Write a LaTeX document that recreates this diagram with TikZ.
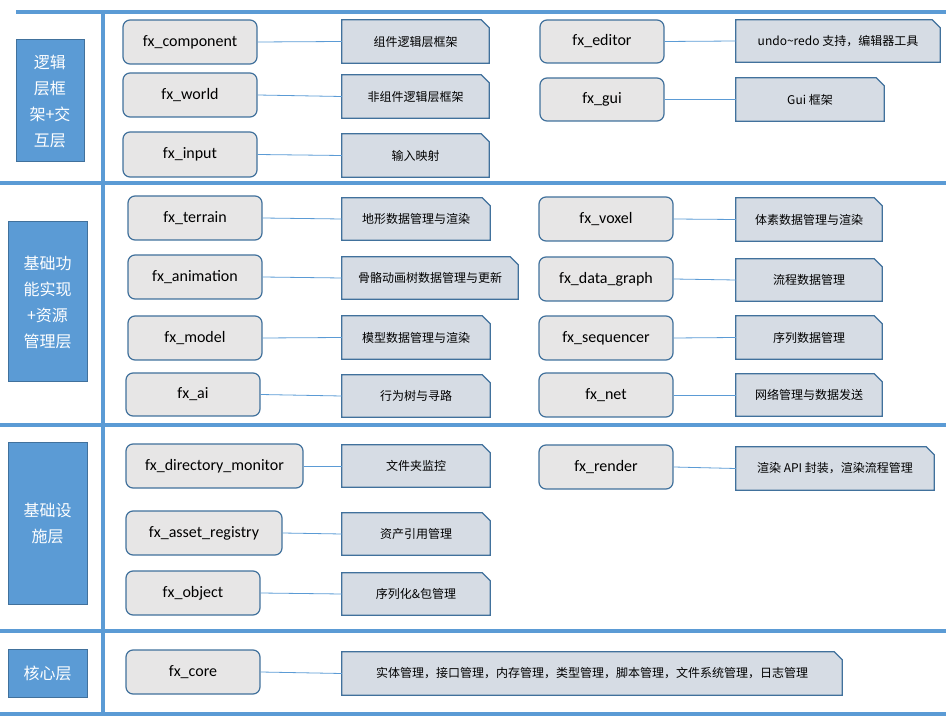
\documentclass[tikz,border=0pt]{standalone}
\usepackage{fontspec}
\setmainfont{Carlito}
\newfontfamily\cjk{Noto Sans CJK SC}
\definecolor{lay}{HTML}{5B9BD5}
\definecolor{edge}{HTML}{41719C}
\definecolor{modf}{HTML}{E7E6E6}
\definecolor{desf}{HTML}{D6DCE4}
\tikzset{
 sep/.style={lay,line width=3.5pt},
 laybox/.style={draw=edge,fill=lay,line width=1pt,text=white,align=center,font=\cjk\fontsize{16}{26}\selectfont,inner sep=0pt},
 modbox/.style={draw=edge,fill=modf,line width=1.2pt,rounded corners=7pt,font=\fontsize{16}{18}\selectfont,inner sep=0pt},
 desbox/.style={inner sep=0pt,font=\cjk\fontsize{12}{14}\selectfont},
 link/.style={lay,line width=0.8pt}
}
\newcommand{\mybox}[6]{\node[#1,minimum width={#4-#2},minimum height={#5-#3}] (#6) at ({(#2+#4)/2},{(#3+#5)/2})}
\newcommand{\desc}[6]{\mybox{desbox}{#2}{#3}{#4}{#5}{#1}{#6};
 \fill[desf] (#1.south west)--(#1.north west)--([xshift=-8pt]#1.north east)--([yshift=-8pt]#1.north east)--(#1.south east)--cycle;
 \draw[edge,line width=1.2pt] (#1.south west)--(#1.north west)--([xshift=-8pt]#1.north east)--([yshift=-8pt]#1.north east)--(#1.south east)--cycle;
 \node[desbox] at (#1.center) {#6};}
\begin{document}
\begin{tikzpicture}[x=1pt,y=-1pt]
\useasboundingbox (0,0) rectangle (946,727);
\draw[sep] (16,12) -- (946,12);
\draw[sep] (0,183) -- (946,183);
\draw[sep] (0,425) -- (946,425);
\draw[sep] (0,631) -- (946,631);
\draw[sep] (0,714) -- (946,714);
\draw[sep] (103,12) -- (103,714);
\mybox{laybox}{16}{40}{84}{162}{L1}{逻辑\\层框\\架+交\\互层};
\mybox{laybox}{8}{222}{87}{382}{L2}{基础功\\能实现\\+资源\\管理层};
\mybox{laybox}{8}{443}{87}{604}{L3}{基础设\\施层};
\mybox{laybox}{8}{649}{87}{697}{L4}{核心层};
\mybox{modbox}{123}{20}{257}{64}{m1}{fx\_component};
\mybox{modbox}{123}{73}{257}{117}{m2}{fx\_world};
\mybox{modbox}{123}{132}{257}{177}{m3}{fx\_input};
\mybox{modbox}{540}{20}{664}{63}{m4}{fx\_editor};
\mybox{modbox}{540}{78}{664}{121}{m5}{fx\_gui};
\mybox{modbox}{128}{196}{262}{240}{m6}{fx\_terrain};
\mybox{modbox}{128}{255}{262}{299}{m7}{fx\_animation};
\mybox{modbox}{128}{316}{262}{360}{m8}{fx\_model};
\mybox{modbox}{126}{373}{260}{416}{m9}{fx\_ai};
\mybox{modbox}{539}{197}{673}{241}{m10}{fx\_voxel};
\mybox{modbox}{539}{257}{673}{301}{m11}{fx\_data\_graph};
\mybox{modbox}{539}{316}{673}{360}{m12}{fx\_sequencer};
\mybox{modbox}{539}{373}{673}{417}{m13}{fx\_net};
\mybox{modbox}{126}{444}{303}{488}{m14}{fx\_directory\_monitor};
\mybox{modbox}{539}{445}{673}{489}{m15}{fx\_render};
\mybox{modbox}{126}{511}{282}{555}{m16}{fx\_asset\_registry};
\mybox{modbox}{126}{571}{260}{615}{m17}{fx\_object};
\mybox{modbox}{126}{650}{260}{694}{m18}{fx\_core};
\desc{d1}{342}{20}{489}{63}{组件逻辑层框架}
\desc{d2}{342}{75}{489}{118}{非组件逻辑层框架}
\desc{d3}{342}{134}{489}{177}{输入映射}
\desc{d4}{736}{20}{940}{62}{undo\char`~redo 支持，编辑器工具}
\desc{d5}{736}{78}{884}{121}{Gui 框架}
\desc{d6}{342}{198}{490}{240}{地形数据管理与渲染}
\desc{d7}{342}{257}{518}{299}{骨骼动画树数据管理与更新}
\desc{d8}{342}{316}{490}{359}{模型数据管理与渲染}
\desc{d9}{342}{375}{490}{417}{行为树与寻路}
\desc{d10}{736}{198}{882}{241}{体素数据管理与渲染}
\desc{d11}{736}{259}{882}{301}{流程数据管理}
\desc{d12}{736}{316}{882}{359}{序列数据管理}
\desc{d13}{736}{374}{882}{416}{网络管理与数据发送}
\desc{d14}{342}{445}{490}{487}{文件夹监控}
\desc{d15}{736}{447}{934}{490}{渲染 API 封装，渲染流程管理}
\desc{d16}{342}{513}{490}{555}{资产引用管理}
\desc{d17}{342}{573}{490}{615}{序列化\&包管理}
\desc{d18}{342}{652}{842}{695}{实体管理，接口管理，内存管理，类型管理，脚本管理，文件系统管理，日志管理}
\foreach \i in {1,...,18} \draw[link] (m\i.east) -- (d\i.west);
\end{tikzpicture}
\end{document}
